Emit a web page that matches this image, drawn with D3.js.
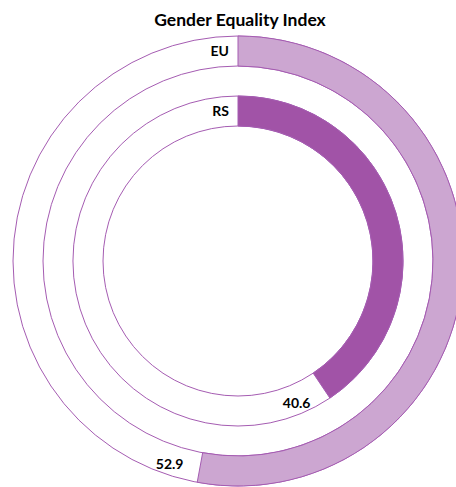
<!DOCTYPE html>
<html>
<head>
<meta charset="utf-8">
<script src="https://cdn.jsdelivr.net/npm/d3@7"></script>
<style>
  body { margin: 0; background: #fff; }
  svg { display: block; }
</style>
</head>
<body>
<div id="chart"></div>
<script>
const labels = ["EU", "RS"];
const values = [52.9, 40.6];
const maxValue = 100;
const fills = ["#cca6d1", "#a153a7"];

const width = 456;
const height = 487;
const cx = 238;
const cy = 261;
const ringWidth = 30;
const outerRadii = [225, 165];

const angle = d3.scaleLinear().domain([0, maxValue]).range([0, 2 * Math.PI]);

const arc = d3.arc();

const svg = d3
  .create("svg")
  .attr("width", width)
  .attr("height", height)
  .attr("viewBox", [0, 0, width, height]);

svg
  .append("text")
  .attr("x", 240)
  .attr("y", 26)
  .attr("text-anchor", "middle")
  .attr("font-family", "Lato, sans-serif")
  .attr("font-weight", "bold")
  .attr("font-size", "17.5px")
  .attr("fill", "#000")
  .text("Gender Equality Index");

const g = svg.append("g").attr("transform", `translate(${cx},${cy})`);

const ring = g
  .selectAll("g")
  .data(values.map((v, i) => ({ label: labels[i], value: v, fill: fills[i], r: outerRadii[i] })))
  .join("g");

// full ring outline
ring
  .append("path")
  .attr("fill", "#fff")
  .attr("stroke", "#a55cb2")
  .attr("stroke-width", 1)
  .attr("d", (d) =>
    arc({ innerRadius: d.r - ringWidth, outerRadius: d.r, startAngle: 0, endAngle: 2 * Math.PI })
  );

// value arc
ring
  .append("path")
  .attr("fill", (d) => d.fill)
  .attr("stroke", "#a55cb2")
  .attr("stroke-width", 1)
  .attr("d", (d) =>
    arc({ innerRadius: d.r - ringWidth, outerRadius: d.r, startAngle: 0, endAngle: angle(d.value) })
  );

// category label, left of the start
ring
  .append("text")
  .attr("x", -9)
  .attr("y", (d) => -d.r + ringWidth / 2)
  .attr("dy", "0.36em")
  .attr("text-anchor", "end")
  .attr("font-family", "Lato, sans-serif")
  .attr("font-weight", "bold")
  .attr("font-size", "14px")
  .attr("fill", "#000")
  .text((d) => d.label);

// value label, just past the end of the arc
ring
  .append("text")
  .attr("transform", (d) => {
    const a = angle(d.value) + 30 / (d.r - ringWidth / 2);
    const rr = d.r - ringWidth / 2 + 4;
    return `translate(${rr * Math.sin(a)},${-rr * Math.cos(a)})`;
  })
  .attr("dy", "0.36em")
  .attr("text-anchor", "middle")
  .attr("font-family", "Lato, sans-serif")
  .attr("font-weight", "bold")
  .attr("font-size", "14px")
  .attr("fill", "#000")
  .text((d) => d.value.toFixed(1));

document.getElementById("chart").append(svg.node());
</script>
</body>
</html>
